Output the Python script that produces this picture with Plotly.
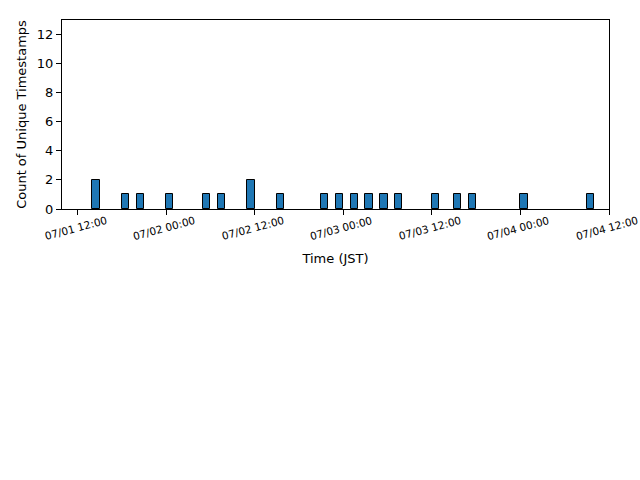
import plotly.graph_objects as go
import pandas as pd

# Hourly bins (start time, JST) and counts
bin_starts = [
    "2024-07-01 14:00", "2024-07-01 18:00", "2024-07-01 20:00", "2024-07-02 00:00",
    "2024-07-02 05:00", "2024-07-02 07:00", "2024-07-02 11:00", "2024-07-02 15:00",
    "2024-07-02 21:00", "2024-07-02 23:00", "2024-07-03 01:00", "2024-07-03 03:00",
    "2024-07-03 05:00", "2024-07-03 07:00", "2024-07-03 12:00", "2024-07-03 15:00",
    "2024-07-03 17:00", "2024-07-04 00:00", "2024-07-04 09:00",
]
counts = [2, 1, 1, 1, 1, 1, 2, 1, 1, 1, 1, 1, 1, 1, 1, 1, 1, 1, 1]

tick_vals = ["2024-07-01 12:00", "2024-07-02 00:00", "2024-07-02 12:00", "2024-07-03 00:00",
             "2024-07-03 12:00", "2024-07-04 00:00", "2024-07-04 12:00"]
tick_text = ["07/01 12:00", "07/02 00:00", "07/02 12:00", "07/03 00:00",
             "07/03 12:00", "07/04 00:00", "07/04 12:00"]

centers = [pd.Timestamp(s) + pd.Timedelta(minutes=30) for s in bin_starts]

fig = go.Figure(go.Bar(
    x=centers, y=counts, width=3600000,
    marker=dict(color="#1f77b4", line=dict(color="black", width=1)),
))

font = "DejaVu Sans"
fig.update_layout(
    width=640, height=480,
    margin=dict(l=62, r=31, t=20, b=271),
    plot_bgcolor="white", paper_bgcolor="white",
    showlegend=False,
    font=dict(family=font, color="black"),
    bargap=0,
)
fig.update_xaxes(
    type="date",
    range=["2024-07-01 09:54", "2024-07-04 12:00"],
    tickvals=tick_vals, showticklabels=False,
    ticks="outside", ticklen=5, tickcolor="black",
    showline=True, linecolor="black", linewidth=1, mirror=True,
    showgrid=False, zeroline=False,
    title=dict(text="Time (JST)", font=dict(size=13, family=font), standoff=39),
)
fig.update_yaxes(
    range=[0, 13],
    tickvals=[0, 2, 4, 6, 8, 10, 12],
    tickfont=dict(size=13, family=font),
    ticks="outside", ticklen=5, tickcolor="black",
    showline=True, linecolor="black", linewidth=1, mirror=True,
    showgrid=False, zeroline=False,
    title=dict(text="Count of Unique Timestamps", font=dict(size=13, family=font), standoff=7),
)

for tv, tt in zip(tick_vals, tick_text):
    fig.add_annotation(
        x=tv, y=0, xref="x", yref="paper", text=tt, showarrow=False,
        textangle=-15, xanchor="center", yanchor="middle", yshift=-19, xshift=-2,
        font=dict(size=10.5, family=font, color="black"),
    )

fig.write_html("out.html")
